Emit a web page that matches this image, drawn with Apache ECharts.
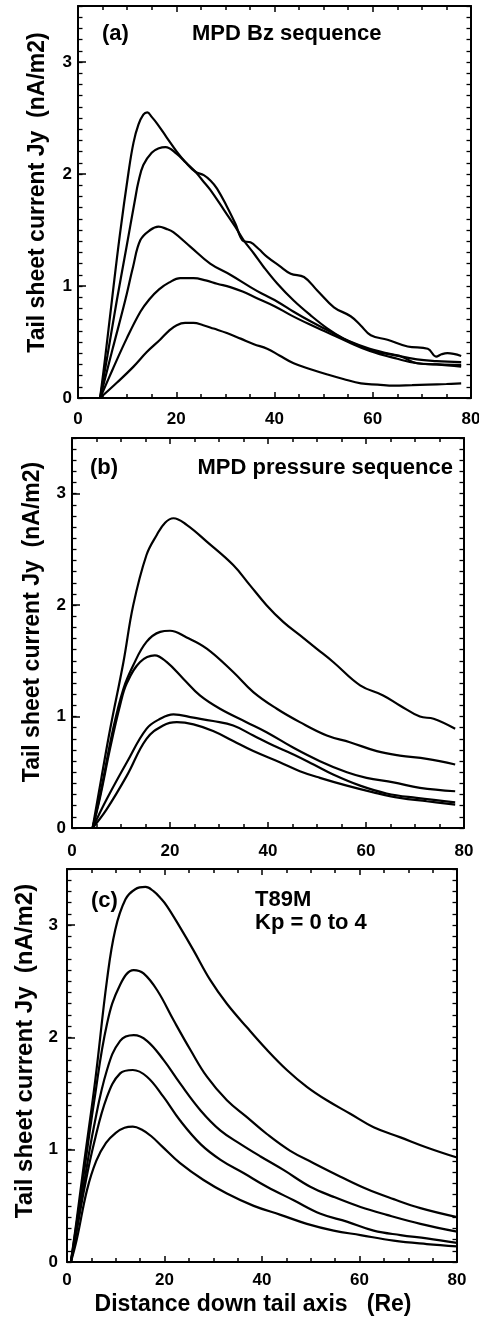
<!DOCTYPE html>
<html>
<head>
<meta charset="utf-8">
<script src="https://cdn.jsdelivr.net/npm/echarts@6/dist/echarts.min.js"></script>
<style>
html,body{margin:0;padding:0;background:#fff;}
#chart{width:479px;height:1321px;}
</style>
</head>
<body>
<div id="chart"></div>
<script>
// ---------- tick values ----------
const xTickValues = [0, 20, 40, 60, 80];
const yTickValues = [0, 1, 2, 3];
const yMax = 3.5;

// ---------- texts ----------
const yAxisTitle = 'Tail sheet current Jy  (nA/m2)';
const xAxisTitle = 'Distance down tail axis   (Re)';
const panelTags = ['(a)', '(b)', '(c)'];
const panelTitles = ['MPD Bz sequence', 'MPD pressure sequence', 'T89M'];
const panelSubtitle = 'Kp = 0 to 4';

// ---------- panel (a): MPD Bz sequence ----------
const a1 = [[4.5,0],[5.5,0.35],[6.9,0.87],[8.5,1.45],[10.3,2.02],[11.3,2.28],[12.3,2.44],[13.3,2.53],[14.1,2.55],[15,2.51],[16.1,2.45],[18,2.33],[20.1,2.2],[22,2.1],[23.9,2.02],[25.6,1.99],[27,1.94],[28.3,1.87],[30.3,1.71],[32,1.56],[33.7,1.40],[35.1,1.39],[36.8,1.33],[38.5,1.26],[41,1.18],[43.3,1.11],[46,1.08],[48.7,0.96],[52.1,0.81],[55.5,0.73],[57.5,0.65],[59.6,0.56],[63,0.52],[67.1,0.46],[71.2,0.44],[72.9,0.37],[74,0.39],[75.2,0.40],[78,0.375]];
const a2 = [[4.5,0],[6,0.38],[7.9,0.87],[9.8,1.33],[11.6,1.77],[12.3,1.93],[13.3,2.08],[15,2.19],[16.5,2.23],[17.8,2.24],[20.1,2.18],[22,2.1],[23.9,2.02],[25.4,1.94],[26.9,1.86],[29.7,1.68],[32,1.53],[33.7,1.41],[35.8,1.29],[37.8,1.17],[40.6,1.02],[43.9,0.87],[47.3,0.74],[50.8,0.62],[54.1,0.53],[57.6,0.46],[61,0.41],[65.7,0.37],[69.1,0.31],[73.2,0.30],[78,0.295]];
const a3 = [[4.5,0],[7,0.43],[9.6,0.87],[11.2,1.17],[12.7,1.41],[14.7,1.50],[16.4,1.53],[18,1.51],[19.4,1.48],[22.9,1.35],[26.9,1.2],[31,1.1],[35.1,0.99],[37.5,0.93],[40.6,0.86],[43.9,0.77],[47.5,0.68],[51,0.6],[55,0.51],[59.4,0.44],[65,0.38],[69,0.345],[73,0.33],[78,0.32]];
const a4 = [[4.5,0],[7,0.25],[9.9,0.53],[12.7,0.77],[14.5,0.88],[16.5,0.97],[18.5,1.03],[20.8,1.07],[23.5,1.07],[26,1.05],[28.3,1.02],[31,0.99],[33.5,0.95],[36,0.9],[40,0.82],[43.3,0.74],[47,0.66],[51,0.58],[55,0.5],[59.4,0.42],[65,0.35],[69,0.31],[73,0.3],[78,0.28]];
const a5 = [[4.5,0],[8,0.14],[11.3,0.28],[14,0.41],[16.7,0.52],[18.5,0.6],[20.1,0.65],[21.8,0.67],[23.5,0.67],[25.5,0.65],[27.6,0.62],[30.3,0.58],[33.1,0.53],[35.8,0.48],[38.5,0.44],[41,0.38],[43.9,0.31],[47.5,0.255],[50.8,0.21],[54,0.17],[57.6,0.13],[61,0.12],[64.3,0.11],[68,0.115],[71.2,0.12],[75,0.125],[78,0.13]];

// ---------- panel (b): MPD pressure sequence ----------
const b1 = [[4.2,0],[6,0.45],[7.8,0.89],[10.5,1.49],[12.5,2.0],[15.2,2.45],[17.3,2.63],[19,2.74],[20.7,2.78],[23.4,2.72],[27.5,2.57],[32.9,2.36],[36.3,2.18],[39.7,2.0],[43.1,1.85],[46.5,1.73],[49.9,1.61],[53.3,1.49],[58.8,1.28],[63.5,1.19],[66.9,1.1],[71,1.0],[73.8,0.98],[78.2,0.89]];
const b2 = [[4.2,0],[5.7,0.29],[8.4,0.89],[10.5,1.25],[12.5,1.46],[15.2,1.67],[18,1.76],[20,1.77],[23.4,1.71],[27.5,1.61],[32.9,1.40],[37,1.22],[41.8,1.07],[46.5,0.95],[52,0.83],[56.7,0.77],[62.2,0.69],[66.9,0.65],[72.4,0.62],[78.2,0.57]];
const b3 = [[4.2,0],[5.7,0.27],[7.8,0.72],[9.8,1.1],[11.2,1.3],[13.9,1.49],[16.9,1.55],[19.3,1.49],[22.7,1.34],[26.1,1.19],[30.2,1.07],[35.6,0.95],[39.7,0.86],[45.2,0.72],[50.6,0.6],[56.1,0.5],[60.1,0.45],[65.6,0.41],[71,0.36],[78.2,0.33]];
const b4 = [[4.2,0],[7.1,0.26],[11.2,0.59],[15.2,0.89],[18,0.98],[20.7,1.02],[24.8,0.99],[28.8,0.96],[32.9,0.92],[37,0.83],[41.1,0.74],[45.2,0.66],[49.3,0.57],[53.3,0.48],[58.8,0.38],[64.2,0.31],[70.3,0.27],[78.2,0.23]];
const b5 = [[4.2,0],[7.1,0.17],[11.2,0.47],[15.2,0.8],[18.6,0.92],[21.4,0.95],[24.8,0.93],[28.8,0.87],[32.9,0.78],[37,0.69],[42.4,0.59],[46.5,0.51],[50.6,0.45],[56.1,0.38],[61.5,0.32],[66.9,0.27],[72.4,0.24],[78.2,0.21]];

// ---------- panel (c): T89M, Kp = 0 to 4 ----------
const c1 = [[0.8,0],[2,0.38],[3.5,0.88],[5.8,1.62],[8.2,2.51],[9.9,2.96],[12,3.23],[14,3.32],[16.1,3.34],[17.8,3.3],[19.2,3.24],[20.5,3.17],[23.2,2.98],[25.9,2.78],[29.4,2.51],[32.8,2.30],[36.9,2.09],[41,1.89],[45.1,1.71],[49.2,1.56],[53.3,1.44],[58.1,1.32],[62.9,1.2],[68.4,1.11],[73.8,1.02],[80,0.93]];
const c2 = [[0.8,0],[2,0.35],[3.5,0.8],[5.5,1.41],[8.2,2.12],[10.9,2.47],[13.7,2.6],[15.7,2.57],[18.5,2.42],[21.9,2.15],[25.3,1.89],[28.7,1.65],[32.8,1.44],[36.9,1.29],[41,1.14],[45.8,0.99],[50.6,0.88],[56.1,0.76],[61.5,0.65],[67,0.56],[72.5,0.48],[80,0.40]];
const c3 = [[0.8,0],[2,0.3],[3.5,0.7],[5.5,1.2],[8.2,1.71],[10.9,1.97],[13.7,2.02],[16.4,1.97],[19.8,1.8],[23.2,1.59],[27.4,1.35],[31.5,1.17],[35.6,1.05],[39.7,0.94],[44.4,0.82],[49.9,0.67],[54.7,0.58],[60.2,0.49],[65.6,0.42],[72.5,0.34],[80,0.27]];
const c4 = [[0.8,0],[2,0.28],[3.5,0.64],[5.5,1.05],[8.2,1.47],[10.9,1.68],[13.5,1.71],[16.4,1.65],[19.8,1.47],[23.2,1.26],[27.4,1.05],[31.5,0.91],[36.3,0.79],[41,0.67],[46.5,0.55],[52,0.43],[57.4,0.36],[62.9,0.28],[68.4,0.24],[73.8,0.21],[80,0.17]];
const c5 = [[0.8,0],[2,0.2],[4.1,0.64],[6,0.9],[8,1.06],[10,1.15],[11.8,1.195],[13.5,1.205],[15.3,1.18],[17.3,1.12],[19.5,1.03],[23.2,0.88],[28,0.73],[32.8,0.61],[38.3,0.5],[43.8,0.42],[49.2,0.34],[54.7,0.28],[60.2,0.24],[67,0.19],[73.8,0.16],[80,0.14]];

// ---------- layout / style ----------
const FONT = '"Liberation Sans", Arial, Helvetica, sans-serif';
const panels = [
  { grid: {left: 78, top: 6, width: 393, height: 392}, curves: [a1, a2, a3, a4, a5], xLabelMargin: 13, yLabelMargin: 6 },
  { grid: {left: 72, top: 438, width: 392, height: 390}, curves: [b1, b2, b3, b4, b5], xLabelMargin: 15, yLabelMargin: 6 },
  { grid: {left: 67, top: 869, width: 390, height: 393}, curves: [c1, c2, c3, c4, c5], xLabelMargin: 10, yLabelMargin: 9 }
];

const xMin = xTickValues[0], xMax = xTickValues[xTickValues.length - 1];
const xStep = xTickValues[1] - xTickValues[0];
const yMin = yTickValues[0], yStep = yTickValues[1] - yTickValues[0];

const black = '#000';
const tickLabelStyle = { color: black, fontFamily: FONT, fontWeight: 'bold', fontSize: 17 };

const grids = [], xAxes = [], yAxes = [], series = [];
panels.forEach((p, i) => {
  grids.push(Object.assign({ containLabel: false, outerBoundsMode: 'none' }, p.grid));
  const xBase = {
    type: 'value', gridIndex: i, min: xMin, max: xMax, interval: xStep,
    axisLine: { show: true, onZero: false, lineStyle: { color: black, width: 2 } },
    axisTick: { show: true, inside: true, length: 6, lineStyle: { color: black, width: 1.5 } },
    minorTick: { show: true, splitNumber: 4, length: 4, lineStyle: { color: black, width: 1.5 } },
    splitLine: { show: false }, minorSplitLine: { show: false }
  };
  xAxes.push(Object.assign({}, xBase, { position: 'bottom',
    axisLabel: Object.assign({ show: true, margin: p.xLabelMargin }, tickLabelStyle) }));
  xAxes.push(Object.assign({}, xBase, { position: 'top', axisLabel: { show: false } }));

  yAxes.push({
    type: 'value', gridIndex: i, position: 'left', min: yMin, max: yMax, interval: yStep,
    axisLine: { show: true, onZero: false, lineStyle: { color: black, width: 2 } },
    axisTick: { show: true, inside: true, length: 8, lineStyle: { color: black, width: 1.5 } },
    axisLabel: Object.assign({ show: true, margin: p.yLabelMargin, showMaxLabel: false }, tickLabelStyle),
    splitLine: { show: false }
  });
  yAxes.push({
    type: 'value', gridIndex: i, position: 'left', min: yMin, max: yMax, interval: yStep / 10,
    axisLine: { show: false },
    axisTick: { show: true, inside: true, length: 4.5, lineStyle: { color: black, width: 1.3 } },
    axisLabel: { show: false }, splitLine: { show: false }
  });
  yAxes.push({
    type: 'value', gridIndex: i, position: 'right', min: yMin, max: yMax, interval: yStep / 10,
    axisLine: { show: true, onZero: false, lineStyle: { color: black, width: 2 } },
    axisTick: { show: true, inside: true, length: 4.5, lineStyle: { color: black, width: 1.3 } },
    axisLabel: { show: false }, splitLine: { show: false }
  });

  p.curves.forEach(curve => {
    series.push({
      type: 'line', xAxisIndex: 2 * i, yAxisIndex: 3 * i, data: curve,
      showSymbol: false, symbol: 'none', smooth: 0.4,
      lineStyle: { color: black, width: 2.2 }, itemStyle: { color: black },
      silent: true, clip: true
    });
  });
});

function label(text, x, y, size, align, rotate) {
  return {
    type: 'text', x: x, y: y, rotation: rotate ? Math.PI / 2 : 0, silent: true,
    style: { text: text, x: 0, y: 0, fill: black, font: 'bold ' + size + 'px ' + FONT,
             textAlign: align, textVerticalAlign: 'middle' }
  };
}

const graphics = [
  label(panelTags[0], 102, 33.5, 22, 'left'),
  label(panelTitles[0], 192, 33.5, 22, 'left'),
  label(panelTags[1], 90, 468, 22, 'left'),
  label(panelTitles[1], 453, 468, 22, 'right'),
  label(panelTags[2], 91, 901, 22, 'left'),
  label(panelTitles[2], 255, 900, 22, 'left'),
  label(panelSubtitle, 255, 923, 22, 'left'),
  label(yAxisTitle, 38, 192.5, 23, 'center', true),
  label(yAxisTitle, 33, 622, 23, 'center', true),
  label(yAxisTitle, 25, 1051, 24, 'center', true),
  label(xAxisTitle, 253, 1305, 23, 'center')
];

const chart = echarts.init(document.getElementById('chart'), null, { renderer: 'canvas' });
chart.setOption({
  backgroundColor: '#fff',
  animation: false,
  grid: grids,
  xAxis: xAxes,
  yAxis: yAxes,
  series: series,
  graphic: graphics
});
</script>
</body>
</html>
